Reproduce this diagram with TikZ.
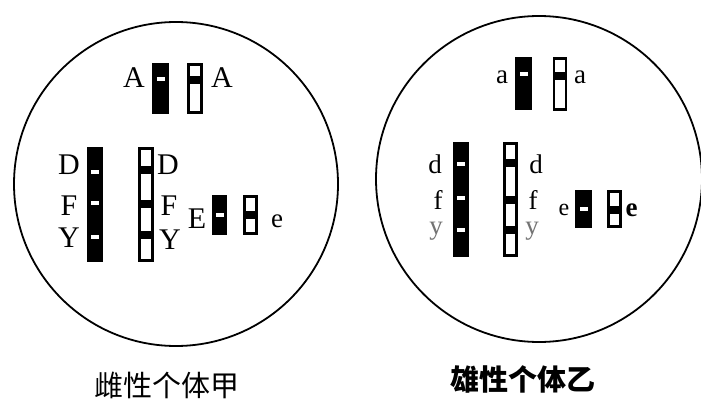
\documentclass[tikz,border=0pt]{standalone}
\usepackage{fontspec}
\setmainfont{Liberation Serif}
\newfontfamily\cjk{Noto Sans CJK SC}
\usetikzlibrary{calc}

% white mark across a dark chromosome
\newcommand\wmark[2]{\fill[white] (#1-4,#2-2.4) rectangle (#1+4,#2+2.4);}
% dark band across a light chromosome: x, y, width
\newcommand\dband[3]{\fill[black] (#1-#3/2,#2-4) rectangle (#1+#3/2,#2+4);}

\begin{document}
\begin{tikzpicture}[x=1pt,y=-1pt,
  cell/.style={circle, draw, line width=1.8pt, inner sep=0pt},
  darkchr/.style={rectangle, draw=black, fill=black, line width=1pt, inner sep=0pt},
  lightchr/.style={rectangle, draw=black, fill=white, line width=2.6pt, inner sep=0pt},
  capl/.style={inner sep=0pt, font=\fontsize{30}{30}\selectfont},
  lowl/.style={inner sep=0pt, font=\fontsize{27}{27}\selectfont},
  caption/.style={inner sep=0pt, font=\cjk\fontsize{29}{29}\selectfont}]
\useasboundingbox (0,0) rectangle (701,401);
\fill[white] (0,0) rectangle (701,401);

% ---------- female cell ----------
\node[cell, minimum size=324pt] (cellF) at (176,184) {};

% pair A / A
\node[darkchr,  minimum width=16pt, minimum height=50pt] (fA1) at (160.5,88.5) {};
\node[lightchr, minimum width=13.5pt, minimum height=48.5pt] (fA2) at (195,88.5) {};
\wmark{160.5}{79}
\dband{195}{80}{14}
\node[capl] (lfA1) at (134,78) {A};
\node[capl] (lfA2) at (222,78) {A};

% long pair D F Y
\node[darkchr,  minimum width=15pt, minimum height=114pt] (fL1) at (95,204.5) {};
\node[lightchr, minimum width=13.5pt, minimum height=112.5pt] (fL2) at (146,204.5) {};
\wmark{95}{172}
\wmark{95}{203}
\wmark{95}{237}
\dband{146}{170}{14}
\dband{146}{204}{14}
\dband{146}{235}{14}
\node[capl] (lfD1) at (69,165) {D};
\node[capl] (lfF1) at (69,206) {F};
\node[capl] (lfY1) at (69,238) {Y};
\node[capl] (lfD2) at (168,165) {D};
\node[capl] (lfF2) at (169,206) {F};
\node[capl] (lfY2) at (170,240) {Y};

% pair E / e
\node[darkchr,  minimum width=14pt, minimum height=39pt] (fE1) at (219.5,215) {};
\node[lightchr, minimum width=12.5pt, minimum height=37.5pt] (fE2) at (250.5,215) {};
\wmark{219.5}{215}
\dband{250.5}{215}{13}
\node[capl] (lfE1) at (197,219) {E};
\node[lowl] (lfE2) at (277,221) {e};

\node[caption] (capF) at (167,385) {雌性个体甲};

% ---------- male cell ----------
\node[cell, minimum size=326pt] (cellM) at (539,179) {};

% pair a / a
\node[darkchr,  minimum width=16pt, minimum height=52pt] (ma1) at (523.5,84) {};
\node[lightchr, minimum width=12pt, minimum height=50.5pt] (ma2) at (560,84) {};
\wmark{523.5}{74}
\dband{560}{76}{13}
\node[lowl] (lma1) at (502,77) {a};
\node[lowl] (lma2) at (580,77) {a};

% long pair d f y
\node[darkchr,  minimum width=15pt, minimum height=114pt] (mL1) at (461,199.5) {};
\node[lightchr, minimum width=12.5pt, minimum height=112.5pt] (mL2) at (510.5,199.5) {};
\wmark{461}{164}
\wmark{461}{198}
\wmark{461}{230}
\dband{510.5}{163}{14}
\dband{510.5}{200}{14}
\dband{510.5}{230}{14}
\node[lowl] (lmd1) at (435,164) {d};
\node[lowl] (lmf1) at (438,200) {f};
\node[lowl, text=black!55] (lmy1) at (436,231) {y};
\node[lowl] (lmd2) at (536,164) {d};
\node[lowl] (lmf2) at (533,200) {f};
\node[lowl, text=black!55] (lmy2) at (532,231) {y};

% pair e / e
\node[darkchr,  minimum width=16pt, minimum height=37pt] (me1) at (583.5,209) {};
\node[lightchr, minimum width=12pt, minimum height=35.5pt] (me2) at (614.5,209) {};
\wmark{583.5}{209}
\dband{614.5}{210}{15}
\node[lowl, font=\fontsize{24}{24}\selectfont] (lme1) at (564,210) {e};
\node[lowl, font=\bfseries\fontsize{27}{27}\selectfont] (lme2) at (631.5,210) {e};

\node[caption, font=\cjk\bfseries\fontsize{29}{29}\selectfont] (capM) at (523,379) {雄性个体乙};
\end{tikzpicture}
\end{document}
